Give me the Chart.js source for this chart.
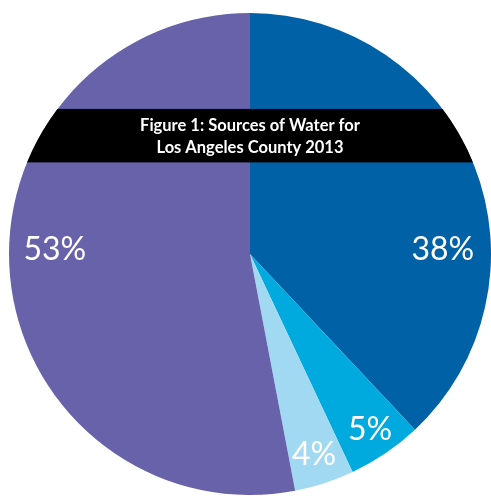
<!DOCTYPE html>
<html>
<head>
<meta charset="utf-8">
<script src="https://cdn.jsdelivr.net/npm/chart.js@4"></script>
<style>
  html, body { margin: 0; padding: 0; background: #fff; }
  #wrap { width: 491px; height: 496px; }
</style>
</head>
<body>
<div id="wrap"><canvas id="waterChart"></canvas></div>
<script>
const sources = ['Source A', 'Source B', 'Source C', 'Source D'];
const shares = [38, 5, 4, 53];
const shareLabels = ['38%', '5%', '4%', '53%'];
const sliceColors = ['#0061a6', '#00aadf', '#a2d9f2', '#6762aa'];
const titleLines = ['Figure 1: Sources of Water for', 'Los Angeles County 2013'];

// label spots, as fractions of the radius from the pie centre
const labelSpots = [[0.80, -0.017], [0.498, 0.73], [0.266, 0.834], [-0.81, -0.017]];

const overlay = {
    id: 'overlay',
    afterDatasetsDraw(chart) {
        const ctx = chart.ctx;
        const arc = chart.getDatasetMeta(0).data[0];
        const cx = arc.x, cy = arc.y, r = arc.outerRadius;

        // black title band, clipped to the circle
        ctx.save();
        ctx.beginPath();
        ctx.arc(cx, cy, r, 0, Math.PI * 2);
        ctx.clip();
        ctx.fillStyle = '#000';
        ctx.fillRect(cx - r, cy - 0.602 * r, 2 * r, 0.222 * r);
        ctx.restore();

        ctx.save();
        ctx.fillStyle = '#fff';
        ctx.textAlign = 'center';
        ctx.textBaseline = 'middle';
        ctx.font = 'bold 16.5px Lato';
        ctx.fillText(titleLines[0], cx, cy - 0.532 * r);
        ctx.fillText(titleLines[1], cx, cy - 0.44 * r);

        ctx.font = '32px Lato';
        shareLabels.forEach((txt, i) => {
            ctx.fillText(txt, cx + labelSpots[i][0] * r, cy + labelSpots[i][1] * r);
        });
        ctx.restore();
    }
};

new Chart(document.getElementById('waterChart').getContext('2d'), {
    type: 'pie',
    data: {
        labels: sources,
        datasets: [{
            data: shares,
            backgroundColor: sliceColors,
            borderWidth: 0
        }]
    },
    options: {
        responsive: true,
        maintainAspectRatio: false,
        animation: false,
        layout: { padding: { left: 9, right: 0, top: 13, bottom: 1 } },
        plugins: {
            legend: { display: false },
            tooltip: { enabled: false }
        }
    },
    plugins: [overlay]
});
</script>
</body>
</html>
